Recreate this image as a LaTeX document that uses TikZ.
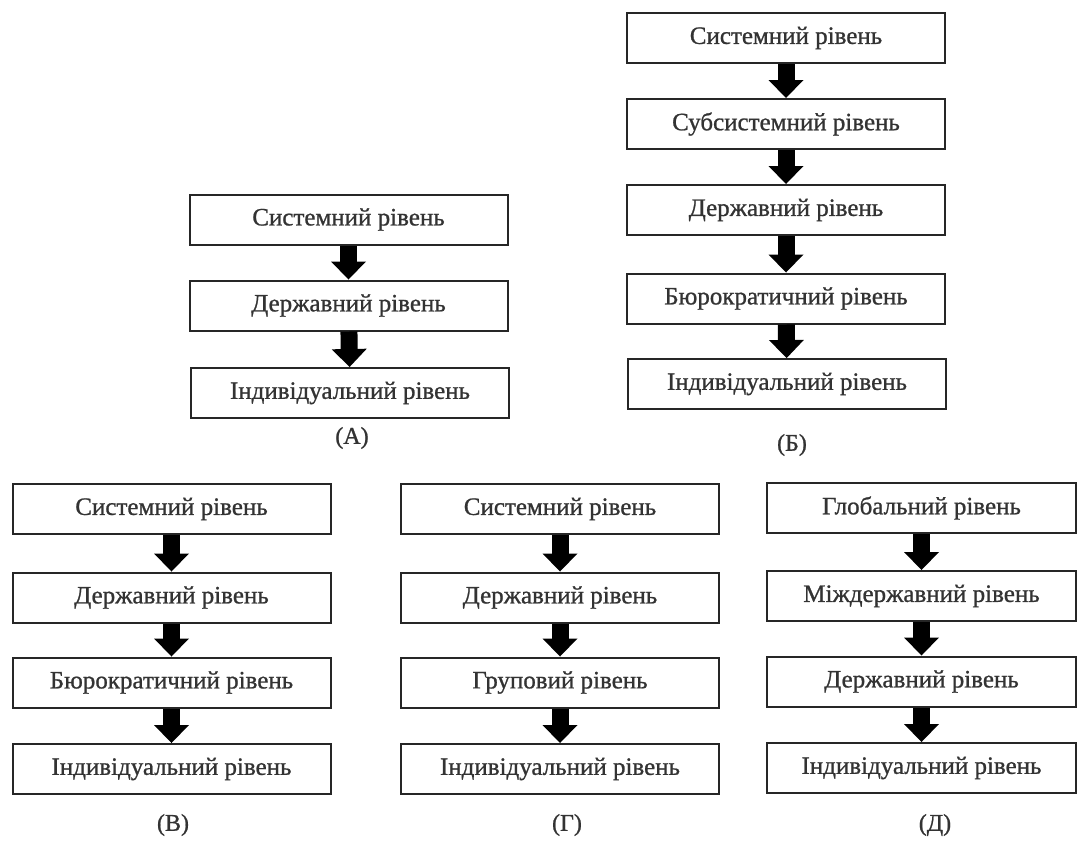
\documentclass[tikz,border=0pt]{standalone}
\usepackage{fontspec}
\setmainfont{Liberation Serif}
\newfontfamily\heavyserif[FakeBold=0.9]{Liberation Serif}
\usetikzlibrary{arrows.meta}
\begin{document}
\begin{tikzpicture}[x=1pt,y=-1pt,
  lvl/.style={draw=black!85, line width=2pt, fill=white, minimum width=318pt,
    minimum height=50pt, inner sep=0pt, text=black!80,
    font=\heavyserif\fontsize{25}{30}\selectfont},
  flow/.style={line width=17pt, black,
    -{Triangle[width=35pt,length=18pt,line width=0pt]}},
  caplabel/.style={inner sep=0pt, text=black!80, font=\heavyserif\fontsize{24}{28}\selectfont}]
\useasboundingbox (0,0) rectangle (1079,844);
\fill[white] (0,0) rectangle (1079,844);
% (A)
\node[lvl] (a1) at (348.5,219.5) {Системний рівень};
\node[lvl] (a2) at (348.5,305.5) {Державний рівень};
\node[lvl] (a3) at (350,393) {Індивідуальний рівень};
\node[caplabel] (la) at (352,438) {(А)};
\draw[flow] (a1) -- (a2);
\draw[flow] (a2) -- (a3);
% (Б)
\node[lvl] (b1) at (786,38) {Системний рівень};
\node[lvl] (b2) at (786,124) {Субсистемний рівень};
\node[lvl] (b3) at (786,210) {Державний рівень};
\node[lvl] (b4) at (786,298.5) {Бюрократичний рівень};
\node[lvl] (b5) at (787,384) {Індивідуальний рівень};
\node[caplabel] (lb) at (792,445) {(Б)};
\draw[flow] (b1) -- (b2);
\draw[flow] (b2) -- (b3);
\draw[flow] (b3) -- (b4);
\draw[flow] (b4) -- (b5);
% (В)
\node[lvl] (c1) at (171.5,509) {Системний рівень};
\node[lvl] (c2) at (171.5,597.5) {Державний рівень};
\node[lvl] (c3) at (171.5,682.5) {Бюрократичний рівень};
\node[lvl] (c4) at (171.5,769) {Індивідуальний рівень};
\node[caplabel] (lc) at (173,825) {(В)};
\draw[flow] (c1) -- (c2);
\draw[flow] (c2) -- (c3);
\draw[flow] (c3) -- (c4);
% (Г)
\node[lvl] (d1) at (560,509) {Системний рівень};
\node[lvl] (d2) at (560,597.5) {Державний рівень};
\node[lvl] (d3) at (560,682.5) {Груповий рівень};
\node[lvl] (d4) at (560,769) {Індивідуальний рівень};
\node[caplabel] (ld) at (567,825) {(Г)};
\draw[flow] (d1) -- (d2);
\draw[flow] (d2) -- (d3);
\draw[flow] (d3) -- (d4);
% (Д)
\node[lvl, minimum width=309pt] (e1) at (921.5,508) {Глобальний рівень};
\node[lvl, minimum width=309pt] (e2) at (921.5,596) {Міждержавний рівень};
\node[lvl, minimum width=309pt] (e3) at (921.5,681.5) {Державний рівень};
\node[lvl, minimum width=309pt] (e4) at (921.5,768) {Індивідуальний рівень};
\node[caplabel] (le) at (935,825) {(Д)};
\draw[flow] (e1) -- (e2);
\draw[flow] (e2) -- (e3);
\draw[flow] (e3) -- (e4);
\end{tikzpicture}
\end{document}
